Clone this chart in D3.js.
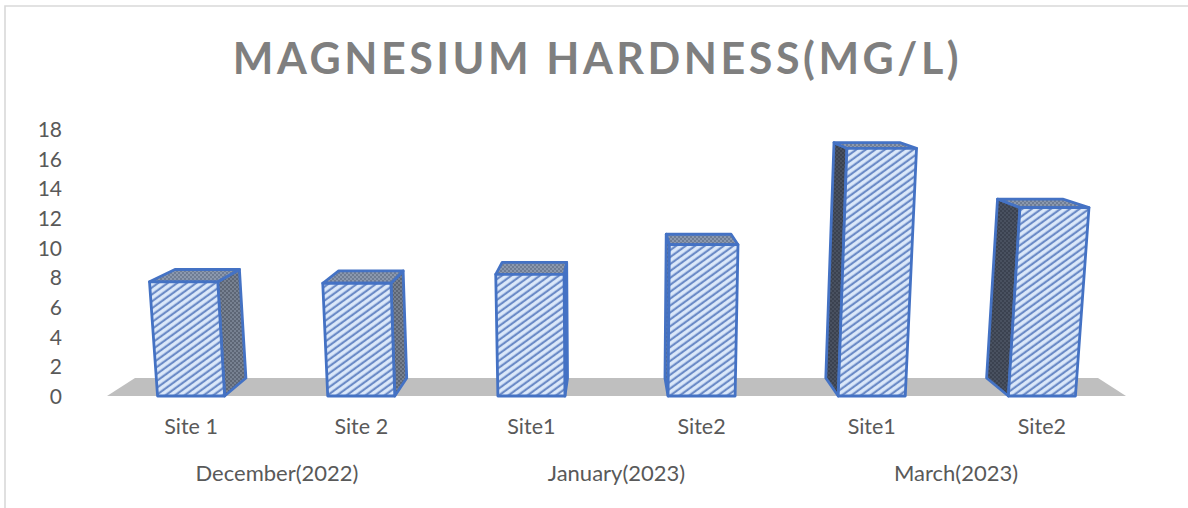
<!DOCTYPE html>
<html><head><meta charset="utf-8">
<script src="https://cdn.jsdelivr.net/npm/d3@7"></script>
<style>html,body{margin:0;padding:0;background:#fff}svg{display:block}text{font-family:Lato,"Open Sans",sans-serif}</style>
</head><body><div id="c"></div>
<script>
const titleText = "MAGNESIUM HARDNESS(MG/L)";
const sites = ["Site 1","Site 2","Site1","Site2","Site1","Site2"];
const months = ["December(2022)","January(2023)","March(2023)"];
const values = [7.7,7.6,8.2,10.2,16.7,12.7];
const ticks = [0,2,4,6,8,10,12,14,16,18];

const W=1188,H=508;
const svg=d3.select("#c").append("svg").attr("width",W).attr("height",H);
svg.append("rect").attr("width",W).attr("height",H).attr("fill","#fff");
const defs=svg.append("defs");

function stripes(id){
  const p=defs.append("pattern").attr("id",id).attr("patternUnits","userSpaceOnUse")
    .attr("width",5.6).attr("height",5.6).attr("patternTransform","rotate(-36)");
  p.append("rect").attr("width",5.6).attr("height",5.6).attr("fill","#dce9fa");
  p.append("rect").attr("width",5.6).attr("height",2.2).attr("y",1.6).attr("fill","#6a8ac6");
}
function dots(id,bg,dot){
  const p=defs.append("pattern").attr("id",id).attr("patternUnits","userSpaceOnUse")
    .attr("width",4).attr("height",4);
  p.append("rect").attr("width",4).attr("height",4).attr("fill",bg);
  p.append("circle").attr("cx",1).attr("cy",1).attr("r",.8).attr("fill",dot);
  p.append("circle").attr("cx",3).attr("cy",3).attr("r",.8).attr("fill",dot);
}
stripes("front");
dots("sideLight","#5d6675","#98a3b5");
dots("sideDark","#3b4250","#5a6474");
dots("topFace","#6f7d94","#aebbd0");

const x=d3.scaleBand().domain(d3.range(sites.length)).range([106,1127]).paddingInner(0.606).paddingOuter(0.303);
const y=d3.scaleLinear().domain([0,18]).range([396,129]);
const cx=612,skew=0.0023,depthX=0.055,depthY=18,depthV=0.05;
function proj(X,v,d){
  const xd=cx+(X-cx)*(1-depthX*d);
  return [xd+(xd-cx)*skew*v, y(v*(1-depthV*d))-depthY*d];
}
const line=d3.line();

// title
svg.append("text").attr("x",597.5).attr("y",73.5).attr("text-anchor","middle")
  .attr("font-size",43).attr("font-weight",700).attr("letter-spacing",3.55).attr("fill","#7f7f7f").text(titleText);

// value axis
const axis=d3.axisLeft(y).tickValues(ticks).tickSize(0).tickPadding(0);
const ga=svg.append("g").attr("transform","translate(62,0)").call(axis);
ga.select(".domain").remove();
ga.selectAll("text").attr("font-size",21).attr("fill","#595959").attr("dy","0.35em").style("font-family","Lato");

// floor
svg.append("path").attr("fill","#bfbfbf").attr("d",line([[107,396],[135,378],[1098,378],[1126,396]])+"Z");

// bars
const g=svg.selectAll("g.bar").data(values).join("g").attr("class","bar");
g.each(function(v,i){
  const s=d3.select(this),l=x(i),r=l+x.bandwidth();
  const mid=(l+r)/2, side=mid<cx?r:l;
  const dark=i>=4;
  const sty=(p,f)=>p.attr("fill",f).attr("stroke","#4472c4").attr("stroke-width",2.8).attr("stroke-linejoin","round");
  sty(s.append("path").attr("d",line([proj(side,0,0),proj(side,0,1),proj(side,v,1),proj(side,v,0)])+"Z"),
      dark?"url(#sideDark)":"url(#sideLight)");
  sty(s.append("path").attr("d",line([proj(l,v,0),proj(l,v,1),proj(r,v,1),proj(r,v,0)])+"Z"),"url(#topFace)");
  sty(s.append("path").attr("d",line([proj(l,0,0),proj(r,0,0),proj(r,v,0),proj(l,v,0)])+"Z"),"url(#front)");
});

// category labels
svg.selectAll("text.site").data(sites).join("text").attr("class","site")
  .attr("x",(d,i)=>x(i)+x.bandwidth()/2).attr("y",434).attr("text-anchor","middle")
  .attr("font-size",21.5).attr("fill","#595959").text(d=>d);
const mx=d3.scalePoint().domain(months).range([277,956]);
svg.selectAll("text.month").data(months).join("text").attr("class","month")
  .attr("x",d=>mx(d)).attr("y",481).attr("text-anchor","middle")
  .attr("font-size",22).attr("fill","#595959").text(d=>d);

// frame
svg.append("path").attr("fill","none").attr("stroke","#d9d9d9").attr("stroke-width",1.6)
  .attr("d","M5,508V6H1188");
</script></body></html>
